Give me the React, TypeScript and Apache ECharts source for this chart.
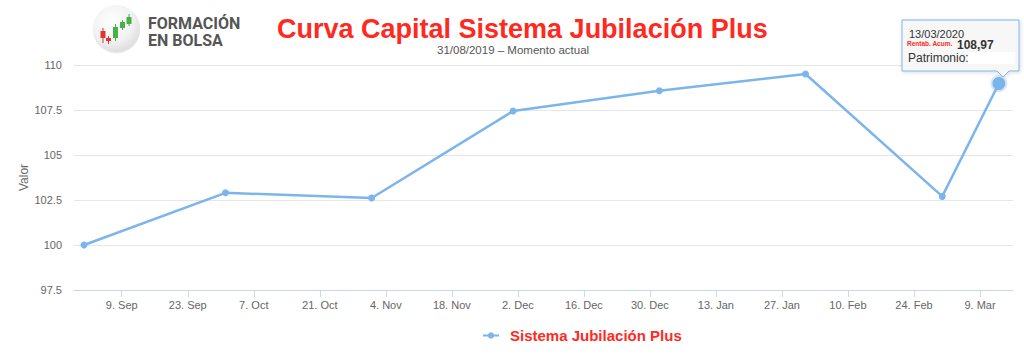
import React, { useEffect, useRef } from "react";
import * as echarts from "echarts";

// ---- data ----
const seriesName = "Sistema Jubilación Plus";
const dates = [
  "2019-09-01",
  "2019-10-01",
  "2019-11-01",
  "2019-12-01",
  "2020-01-01",
  "2020-02-01",
  "2020-03-01",
  "2020-03-13",
];
const values = [100, 102.9, 102.61, 107.44, 108.57, 109.5, 102.7, 108.97];
const tickDates = [
  "2019-09-09",
  "2019-09-23",
  "2019-10-07",
  "2019-10-21",
  "2019-11-04",
  "2019-11-18",
  "2019-12-02",
  "2019-12-16",
  "2019-12-30",
  "2020-01-13",
  "2020-01-27",
  "2020-02-10",
  "2020-02-24",
  "2020-03-09",
];
const MONTHS = ["Jan", "Feb", "Mar", "Apr", "May", "Jun", "Jul", "Aug", "Sep", "Oct", "Nov", "Dec"];
const xMinStr = "2019-08-29T21:00:00Z";
const xMaxStr = "2020-03-16T00:00:00Z";
const yMin = 97.5;
const yMax = 110;
const yStep = 2.5;
const titleText = "Curva Capital Sistema Jubilación Plus";
const subtitleText = "31/08/2019 – Momento actual";
const tipDate = "13/03/2020";
const tipValue = "108,97";

const ts = (s: string) => Date.parse(s + "T00:00:00Z");

const RED = "#ff2a1f";
const BLUE = "#7cb5ec";
const FONT = "'Liberation Sans', Arial, sans-serif";

export default function App() {
  const ref = useRef<HTMLDivElement>(null);

  useEffect(() => {
    if (!ref.current) return;
    const chart = echarts.init(ref.current, null, { renderer: "svg" });
    const last = dates.length - 1;
    const data = dates.map((d, i) =>
      i === last
        ? {
            value: [ts(d), values[i]],
            symbolSize: 13,
            itemStyle: { color: BLUE, borderColor: "rgba(124,181,236,0.3)", borderWidth: 4 },
          }
        : { value: [ts(d), values[i]] }
    );
    const tickTs = tickDates.map(ts);

    const candles = [
      { x: 103, wick: [28, 43], body: [31, 38], c: "#e0342c" },
      { x: 108.5, wick: [36, 44], body: [38, 41], c: "#e0342c" },
      { x: 115.5, wick: [24, 41], body: [27, 38], c: "#47b04b" },
      { x: 122.5, wick: [20, 30], body: [22, 28], c: "#47b04b" },
      { x: 129, wick: [14, 26], body: [17, 24], c: "#47b04b" },
    ];
    const candleEls: any[] = [];
    candles.forEach((k) => {
      candleEls.push({
        type: "line",
        shape: { x1: k.x, y1: k.wick[0], x2: k.x, y2: k.wick[1] },
        style: { stroke: k.c, lineWidth: 1 },
      });
      candleEls.push({
        type: "rect",
        shape: { x: k.x - 2.5, y: k.body[0], width: 5, height: k.body[1] - k.body[0] },
        style: { fill: k.c },
      });
    });

    chart.setOption({
      animation: false,
      textStyle: { fontFamily: FONT },
      title: [
        {
          text: titleText,
          left: 277,
          top: 15,
          padding: 0,
          textStyle: { fontSize: 27, fontWeight: "bold", color: RED, fontFamily: FONT },
        },
        {
          text: subtitleText,
          left: 437,
          top: 44,
          padding: 0,
          textStyle: { fontSize: 11.5, fontWeight: "normal", color: "#555", fontFamily: FONT },
        },
      ],
      legend: {
        data: [seriesName],
        left: 477,
        top: 323,
        itemWidth: 16,
        itemHeight: 8,
        textStyle: { color: RED, fontSize: 15, fontWeight: "bold", fontFamily: FONT, padding: [0, 0, 0, 6] },
      },
      grid: { left: 74, right: 11, top: 65, bottom: 67 },
      xAxis: {
        type: "value",
        min: Date.parse(xMinStr),
        max: Date.parse(xMaxStr),
        splitLine: { show: false },
        axisLine: { show: true, lineStyle: { color: "#ccd6eb", width: 1 } },
        axisTick: {
          show: true,
          customValues: tickTs,
          length: 7,
          lineStyle: { color: "#ccd6eb" },
        },
        axisLabel: {
          customValues: tickTs,
          margin: 9,
          color: "#666",
          fontSize: 11,
          fontFamily: FONT,
          formatter: (v: number) => {
            const d = new Date(v);
            return `${d.getUTCDate()}. ${MONTHS[d.getUTCMonth()]}`;
          },
        },
      },
      yAxis: {
        type: "value",
        min: yMin,
        max: yMax,
        interval: yStep,
        name: "Valor",
        nameLocation: "middle",
        nameGap: 44,
        nameMoveOverlap: false,
        nameTextStyle: { color: "#666", fontSize: 12, fontFamily: FONT },
        axisLine: { show: false },
        axisTick: { show: false },
        axisLabel: { color: "#666", fontSize: 11, margin: 12, fontFamily: FONT },
        splitLine: { lineStyle: { color: "#e6e6e6", width: 1 } },
      },
      series: [
        {
          name: seriesName,
          type: "line",
          data,
          symbol: "circle",
          symbolSize: 7,
          itemStyle: { color: BLUE },
          lineStyle: { color: BLUE, width: 2.5 },
          z: 3,
        },
      ],
      graphic: [
        // logo
        {
          type: "circle",
          shape: { cx: 116.5, cy: 30, r: 23.5 },
          style: { fill: "rgba(0,0,0,0.08)" },
        },
        {
          type: "circle",
          shape: { cx: 116.5, cy: 28.5, r: 23.5 },
          style: {
            fill: new echarts.graphic.RadialGradient(0.4, 0.35, 0.75, [
              { offset: 0, color: "#ffffff" },
              { offset: 0.6, color: "#f1f1f1" },
              { offset: 1, color: "#d6d6d6" },
            ]),
          },
        },
        ...candleEls,
        {
          type: "text",
          left: 148,
          top: 15,
          style: { text: "FORMACIÓN", fill: "#555", font: "bold 16px Roboto, sans-serif" },
        },
        {
          type: "text",
          left: 148,
          top: 32,
          style: { text: "EN BOLSA", fill: "#555", font: "bold 16px Roboto, sans-serif" },
        },
        // tooltip
        {
          type: "polygon",
          shape: {
            points: [
              [902, 20],
              [1019, 20],
              [1019, 71],
              [1009, 71],
              [1003, 77],
              [997, 71],
              [902, 71],
            ],
          },
          style: {
            fill: "rgba(248,248,248,0.96)",
            stroke: BLUE,
            lineWidth: 1,
            shadowBlur: 4,
            shadowColor: "rgba(0,0,0,0.15)",
            shadowOffsetX: 1,
            shadowOffsetY: 1,
          },
          z: 100,
        },
        {
          type: "text",
          x: 909,
          y: 33.5,
          style: { text: tipDate, fill: "#333", font: `11px ${FONT}`, verticalAlign: "middle" },
          z: 101,
        },
        {
          type: "text",
          x: 907,
          y: 43.5,
          style: { text: "Rentab. Acum.", fill: RED, font: `bold 6.5px ${FONT}`, verticalAlign: "middle" },
          z: 101,
        },
        {
          type: "text",
          x: 957,
          y: 44.5,
          style: { text: tipValue, fill: "#333", font: `bold 12px ${FONT}`, verticalAlign: "middle" },
          z: 101,
        },
        {
          type: "text",
          x: 908,
          y: 58,
          style: { text: "Patrimonio:", fill: "#333", font: `12px ${FONT}`, verticalAlign: "middle" },
          z: 101,
        },
        {
          type: "rect",
          shape: { x: 968, y: 52, width: 47, height: 12 },
          style: { fill: "#ffffff" },
          z: 101,
        },
      ],
    });
    return () => chart.dispose();
  }, []);

  return (
    <div
      ref={ref}
      style={{ position: "fixed", left: 0, top: 0, width: 1024, height: 357, background: "#fff" }}
    />
  );
}
